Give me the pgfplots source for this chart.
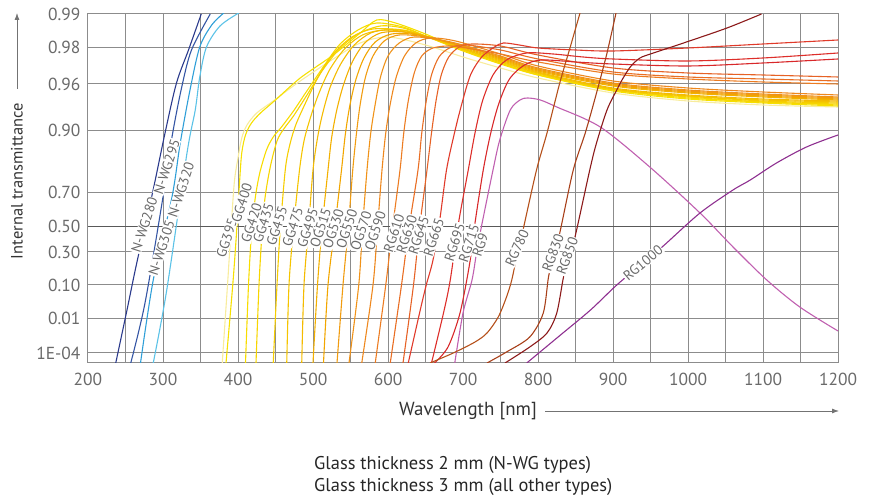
\documentclass[border=0pt]{standalone}
\usepackage{fontspec}
\setmainfont{PT Sans}
\usepackage{pgfplots}
\pgfplotsset{compat=1.18}
\usetikzlibrary{arrows.meta}
\definecolor{cW280}{HTML}{2B3A8C}
\definecolor{cW295}{HTML}{3455A4}
\definecolor{cW305}{HTML}{2F9FD8}
\definecolor{cW320}{HTML}{5BC2E7}
\definecolor{c395}{HTML}{F8EC9C}
\definecolor{c400}{HTML}{F6E000}
\definecolor{c420}{HTML}{F8DC00}
\definecolor{c435}{HTML}{F7D500}
\definecolor{c455}{HTML}{F6CD00}
\definecolor{c475}{HTML}{F5C400}
\definecolor{c495}{HTML}{F4BB00}
\definecolor{c515}{HTML}{F3B000}
\definecolor{c530}{HTML}{F2A600}
\definecolor{c550}{HTML}{F19C10}
\definecolor{c570}{HTML}{F09218}
\definecolor{c590}{HTML}{EE881E}
\definecolor{c610}{HTML}{EC7C22}
\definecolor{c630}{HTML}{E96E24}
\definecolor{c645}{HTML}{E66226}
\definecolor{c665}{HTML}{E03A2A}
\definecolor{c695}{HTML}{DD2E2A}
\definecolor{c715}{HTML}{D8282A}
\definecolor{cRG9}{HTML}{C060B0}
\definecolor{c780}{HTML}{B5501A}
\definecolor{c830}{HTML}{A8401A}
\definecolor{c850}{HTML}{8C1A1A}
\definecolor{c1000}{HTML}{8E3090}
\definecolor{gridc}{HTML}{8C8C8C}
\definecolor{labc}{HTML}{6A6A6A}
\begin{document}
\begin{tikzpicture}[x=1bp,y=1bp]
\path[use as bounding box] (-88,-136) rectangle (784,363);
\begin{axis}[
  at={(0,0)}, anchor=south west,
  width=750bp, height=349bp, scale only axis,
  xmin=200, xmax=1200, ymin=0, ymax=349,
  xtick={200,300,400,500,600,700,800,900,1000,1100,1200},
  xticklabels={200,300,400,500,600,700,800,900,1000,1100,1200},
  minor xtick={250,350,450,550,650,750,850,950,1050,1150},
  ytick={10,44.5,78,111,136.5,170.5,232.5,279,315.5,349},
  yticklabels={1E-04,0.01,0.10,0.30,0.50,0.70,0.90,0.96,0.98,0.99},
  grid=both,
  major grid style={draw=gridc, line width=1bp},
  minor grid style={draw=gridc, line width=1bp},
  axis line style={draw=gridc, line width=1bp},
  tick style={draw=none},
  tick label style={font=\fontsize{17.5}{17.5}\selectfont, text=labc},
  xticklabel style={yshift=-7bp},
  yticklabel style={xshift=-4bp},
  every axis plot/.append style={line width=1.1bp, smooth, tension=0.5, no markers},
  clip=true,
]
\draw[draw=black!65, line width=1.4bp] (axis cs:200,136.5) -- (axis cs:1200,136.5);
% N-WG
\addplot[cW280] coordinates {(237,0)(252,53)(265,100)(286,170)(303,231)(318,280)(334,313)(351,349)};
\addplot[cW295] coordinates {(257,0)(276,60)(300,166)(312,226)(325,276)(338,313)(363,349)};
\addplot[cW305] coordinates {(270,0)(287,83)(312,166)(323,220)(336,273)(349,316)(365,338)(381,350)};
\addplot[cW320] coordinates {(287,0)(305,73)(332,210)(343,253)(349,286)(358,316)(376,337)(401,350)};
% GG
\addplot[c395] coordinates {(379,0)(386,78)(390,125)(395,180)(400,205)(405,225)(412,238)(425,250)(447,262)(483,282)(527,304)(563,320)(600,326)(650,318)(700,306)(750,295)(800,285)(900,270)(1000,262)(1100,258)(1200,256)};
\addplot[c400] coordinates {(384,0)(393,78)(398,130)(402,180)(405,210)(410,228)(418,240)(430,250)(450,263)(483,285)(527,308)(563,330)(585,343)(610,340)(650,329)(700,313)(750,300)(800,288)(900,272)(1000,264)(1100,260)(1200,257)};
\addplot[c420] coordinates {(410,0)(414,78)(418,130)(423,165)(429,190)(438,213)(447,226)(458,236)(474,252)(490,270)(510,292)(535,318)(560,333)(585,340)(620,336)(650,327)(700,312)(750,299)(800,288)(900,273)(1000,265)(1100,261)(1200,258)};
\addplot[c435] coordinates {(424,0)(428,78)(432,130)(436,165)(443,196)(452,222)(461,234)(474,247)(492,268)(512,292)(535,314)(560,329)(590,337)(620,335)(650,327)(700,313)(750,300)(800,289)(900,273)(1000,266)(1100,261)(1200,259)};
\addplot[c455] coordinates {(447,0)(452,78)(456,130)(463,193)(469,218)(477,238)(490,260)(507,286)(527,309)(552,326)(580,334)(620,333)(650,327)(700,314)(750,301)(800,290)(900,274)(1000,267)(1100,262)(1200,260)};
\addplot[c475] coordinates {(465,0)(468,78)(474,135)(482,193)(488,222)(496,244)(507,268)(522,293)(542,314)(566,328)(595,333)(630,331)(700,314)(750,302)(800,290)(900,274)(1000,267)(1100,263)(1200,261)};
\addplot[c495] coordinates {(485,0)(488,78)(494,135)(500,193)(506,225)(513,250)(523,276)(537,299)(555,318)(577,330)(603,333)(650,327)(700,315)(750,303)(800,291)(900,275)(1000,268)(1100,264)(1200,262)};
% OG
\addplot[c515] coordinates {(500,0)(506,78)(512,135)(520,193)(525,226)(532,254)(541,279)(553,302)(569,320)(590,330)(620,331)(660,325)(700,316)(750,304)(800,292)(900,277)(1000,270)(1100,266)(1200,263)};
\addplot[c530] coordinates {(514,0)(520,78)(529,135)(538,193)(543,228)(549,257)(557,283)(568,305)(583,321)(605,329)(640,328)(700,317)(750,305)(800,293)(900,278)(1000,271)(1100,267)(1200,264)};
\addplot[c550] coordinates {(532,0)(540,78)(547,135)(553,193)(558,230)(563,259)(570,286)(580,307)(595,322)(615,328)(650,326)(700,317)(750,306)(800,294)(900,279)(1000,272)(1100,268)(1200,265)};
\addplot[c570] coordinates {(548,0)(561,78)(566,135)(572,193)(577,230)(583,259)(590,286)(600,307)(615,320)(635,326)(670,323)(700,318)(750,307)(800,295)(900,280)(1000,273)(1100,269)(1200,266)};
\addplot[c590] coordinates {(565,0)(580,78)(586,135)(592,193)(597,230)(603,259)(611,286)(622,307)(637,320)(657,325)(690,322)(750,309)(800,297)(900,282)(1000,275)(1100,271)(1200,268)};
% RG orange
\addplot[c610] coordinates {(583,0)(597,78)(606,135)(616,193)(621,230)(627,262)(635,290)(645,307)(660,315)(685,317)(720,313)(750,309)(800,301)(900,289)(1000,284)(1100,281)(1200,279)};
\addplot[c630] coordinates {(603,0)(618,78)(628,135)(640,193)(645,230)(651,262)(658,288)(668,306)(682,315)(703,318)(750,313)(800,304)(900,291)(1000,286)(1100,284)(1200,282)};
\addplot[c645] coordinates {(620,0)(634,78)(642,135)(652,193)(658,230)(664,262)(671,288)(681,306)(695,316)(712,319)(750,317)(800,308)(900,295)(1000,290)(1100,288)(1200,286)};
% RG red
\addplot[c665] coordinates {(627,0)(643,53)(651,78)(660,103)(669,143)(678,193)(688,228)(698,258)(710,288)(725,306)(742,316)(754,320)(775,318)(800,315)(850,313)(900,312)(1000,315)(1100,319)(1200,323)};
\addplot[c695] coordinates {(658,0)(674,50)(683,83)(694,140)(707,193)(716,230)(726,262)(740,288)(758,303)(785,310)(820,309)(860,306)(900,304)(1000,302)(1100,305)(1200,310)};
\addplot[c715] coordinates {(662,0)(680,16)(696,50)(709,100)(716,140)(727,193)(737,230)(748,260)(762,284)(782,298)(805,303)(850,301)(900,299)(1000,297)(1100,300)(1200,304)};
\addplot[cRG9] coordinates {(689,0)(700,50)(712,83)(718,110)(725,138)(740,193)(749,223)(763,253)(776,263)(786,265)(803,263)(825,256)(883,236)(949,196)(1016,150)(1060,116)(1105,83)(1149,56)(1200,32)};
\addplot[c780] coordinates {(656,0)(687,10)(716,21)(732,30)(747,46)(758,66)(765,83)(772,108)(780,133)(798,193)(812,230)(829,280)(843,316)(856,350)};
\addplot[c830] coordinates {(732,0)(758,11)(789,26)(807,50)(814,86)(821,108)(829,130)(847,193)(863,230)(878,270)(892,310)(904,350)};
\addplot[c850] coordinates {(756,0)(789,16)(812,30)(825,50)(834,86)(841,106)(849,125)(869,193)(878,220)(892,253)(905,273)(912,283)(923,296)(936,305)(954,310)(998,321)(1052,335)(1098,349)};
\addplot[c1000] coordinates {(785,0)(830,28)(870,53)(905,78)(940,100)(967,117)(1016,150)(1060,173)(1083,183)(1118,200)(1158,216)(1200,228)};
% labels
\tikzset{lab/.style={fill=white, inner sep=0.6bp, text=labc, font=\fontsize{14}{14}\selectfont, rotate=72}}
\node[lab] at (axis cs:275,138) {N-WG280};
\node[lab] at (axis cs:305,196) {N-WG295};
\node[lab] at (axis cs:298,115) {N-WG305};
\node[lab] at (axis cs:324,173) {N-WG320};
\node[lab] at (axis cs:385,125) {GG395};
\node[lab] at (axis cs:405,160) {GG400};
\node[lab] at (axis cs:418,140) {GG420};
\node[lab] at (axis cs:434,140) {GG435};
\node[lab] at (axis cs:452,137) {GG455};
\node[lab] at (axis cs:473,136) {GG475};
\node[lab] at (axis cs:493,135) {GG495};
\node[lab] at (axis cs:510,135) {OG515};
\node[lab] at (axis cs:527,134) {OG530};
\node[lab] at (axis cs:545,134) {OG550};
\node[lab] at (axis cs:564,132) {OG570};
\node[lab] at (axis cs:583,132) {OG590};
\node[lab] at (axis cs:608,130) {RG610};
\node[lab] at (axis cs:625,129) {RG630};
\node[lab] at (axis cs:641,128) {RG645};
\node[lab] at (axis cs:661,126) {RG665};
\node[lab] at (axis cs:689,121) {RG695};
\node[lab] at (axis cs:708,120) {RG715};
\node[lab] at (axis cs:723,118) {RG9};
\node[lab, rotate=-6] at (axis cs:772,115) {RG780};
\node[lab, rotate=-2] at (axis cs:820,110) {RG830};
\node[lab, rotate=-2] at (axis cs:839,107) {RG850};
\node[lab, rotate=-32] at (axis cs:940,100) {RG1000};
\end{axis}
\node[rotate=90, text=black!80, font=\fontsize{16.5}{16.5}\selectfont] at (-71,182) {Internal transmittance};
\draw[-{Latex[length=7bp,width=5bp]}, draw=black!55, line width=0.8bp] (-71,274) -- (-71,350);
\node[text=black!80, font=\fontsize{19}{19}\selectfont] at (380,-48) {Wavelength [nm]};
\draw[-{Latex[length=7bp,width=5bp]}, draw=black!55, line width=0.8bp] (457,-48) -- (751,-48);
\node[anchor=west, inner sep=0, text=black!85, font=\fontsize{18.5}{18.5}\selectfont] at (226,-102) {Glass thickness 2 mm (N-WG types)};
\node[anchor=west, inner sep=0, text=black!85, font=\fontsize{18.5}{18.5}\selectfont] at (226,-124) {Glass thickness 3 mm (all other types)};
\end{tikzpicture}
\end{document}
